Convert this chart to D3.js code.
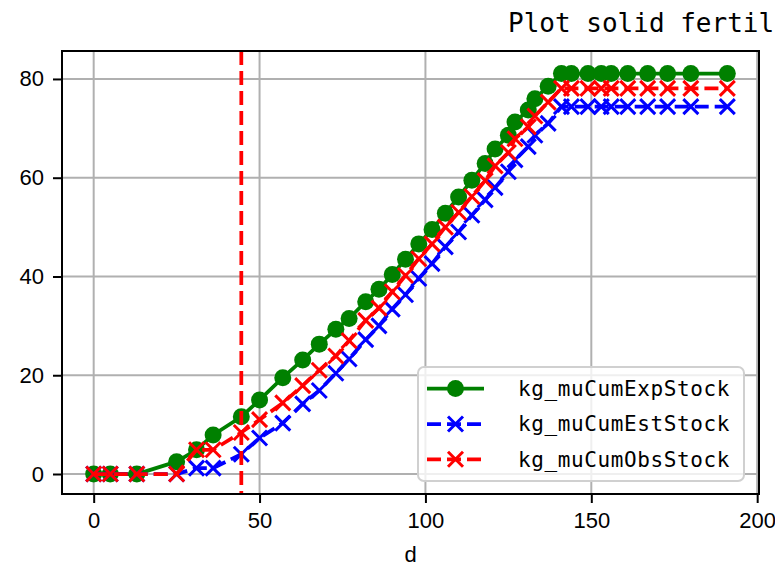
<!DOCTYPE html>
<html>
<head>
<meta charset="utf-8">
<script src="https://cdn.jsdelivr.net/npm/d3@7"></script>
<style>
  body { margin: 0; background: #fff; }
  svg { display: block; }
</style>
</head>
<body>
<svg id="chart"></svg>
<script>
// data
var days = [0, 5, 13, 25, 31, 36, 44.5, 50, 57, 63, 68, 73, 77, 82, 86, 90, 94, 98, 102, 106,
            110, 114, 118, 121, 125, 127, 131, 133, 137, 141, 144, 149, 153, 156, 161, 167, 173, 180, 191];
var expStock = [0, 0, 0, 2.5, 4.9, 7.9, 11.6, 15.0, 19.5, 23.1, 26.3, 29.3, 31.5, 34.9, 37.4, 40.4, 43.5, 46.6, 49.5, 52.8,
                56.1, 59.5, 62.9, 65.8, 68.6, 71.3, 73.7, 76.0, 78.5, 81.1, 81.1, 81.1, 81.1, 81.1, 81.1, 81.1, 81.1, 81.1, 81.1];
var estStock = [0, 0, 0, 0, 1.2, 1.2, 4.0, 7.3, 10.3, 14.2, 16.9, 20.4, 23.3, 27.2, 30.0, 33.4, 36.3, 39.6, 42.6, 46.0,
                49.0, 52.4, 55.5, 58.0, 61.2, 63.6, 66.3, 68.6, 71.0, 74.4, 74.4, 74.4, 74.4, 74.4, 74.4, 74.4, 74.4, 74.4, 74.4];
var obsStock = [0, 0, 0, 0, 4.9, 4.9, 8.4, 11.0, 14.4, 17.9, 21.0, 23.9, 27.0, 31.1, 33.6, 36.9, 40.2, 43.6, 46.6, 50.0,
                53.0, 56.2, 59.4, 62.4, 65.1, 67.9, 70.3, 72.5, 75.3, 78.1, 78.1, 78.1, 78.1, 78.1, 78.1, 78.1, 78.1, 78.1, 78.1];
var seriesNames = ["kg_muCumExpStock", "kg_muCumEstStock", "kg_muCumObsStock"];
var xTicks = [0, 50, 100, 150, 200];
var yTicks = [0, 20, 40, 60, 80];
var vlineDay = 44.5;
var titleText = "Plot solid fertilizer stock";

// basic settings
var width = 775, height = 568;
var plotLeft = 62, plotRight = 759, plotTop = 51, plotBottom = 494;
var tickFont = "'Liberation Sans', Arial, sans-serif";
var monoFont = "'DejaVu Sans Mono', monospace";

var svg = d3.select("#chart").attr("width", width).attr("height", height);

var x = d3.scaleLinear().domain([-9.55, 200.55]).range([plotLeft, plotRight]);
var y = d3.scaleLinear().domain([-4.05, 85.66]).range([plotBottom, plotTop]);

// grid
svg.append("g").selectAll("line").data(xTicks).enter().append("line")
    .attr("x1", d => x(d)).attr("x2", d => x(d))
    .attr("y1", plotTop).attr("y2", plotBottom)
    .attr("stroke", "#b0b0b0").attr("stroke-width", 2);
svg.append("g").selectAll("line").data(yTicks).enter().append("line")
    .attr("x1", plotLeft).attr("x2", plotRight)
    .attr("y1", d => y(d)).attr("y2", d => y(d))
    .attr("stroke", "#b0b0b0").attr("stroke-width", 2);

var series = [
    {name: seriesNames[0], values: expStock, color: "green", dash: null, marker: "circle"},
    {name: seriesNames[1], values: estStock, color: "blue", dash: "14,6", marker: "x"},
    {name: seriesNames[2], values: obsStock, color: "red", dash: "14,6", marker: "x"}
];

var line = d3.line()
    .x(function(d) { return x(d.day); })
    .y(function(d) { return y(d.v); });

function drawMarker(g, marker, color, cx, cy) {
    if (marker === "circle") {
        g.append("circle").attr("cx", cx).attr("cy", cy).attr("r", 8.5).attr("fill", color);
    } else {
        var s = 7.5;
        g.append("path")
            .attr("d", "M" + (cx - s) + "," + (cy - s) + "L" + (cx + s) + "," + (cy + s) +
                       "M" + (cx - s) + "," + (cy + s) + "L" + (cx + s) + "," + (cy - s))
            .attr("stroke", color).attr("stroke-width", 3).attr("fill", "none");
    }
}

series.forEach(function(s) {
    var pts = days.map(function(d, i) { return {day: d, v: s.values[i]}; });
    var g = svg.append("g");
    g.append("path")
        .attr("d", line(pts))
        .attr("fill", "none")
        .attr("stroke", s.color)
        .attr("stroke-width", 3.75)
        .attr("stroke-dasharray", s.dash);
    pts.forEach(function(p) { drawMarker(g, s.marker, s.color, x(p.day), y(p.v)); });
});

// vertical marker line
svg.append("line")
    .attr("x1", x(vlineDay)).attr("x2", x(vlineDay))
    .attr("y1", plotTop).attr("y2", plotBottom)
    .attr("stroke", "red").attr("stroke-width", 3.75)
    .attr("stroke-dasharray", "14,6");

// axes
var xAxis = svg.append("g")
    .attr("transform", "translate(0," + plotBottom + ")")
    .call(d3.axisBottom(x).tickValues(xTicks).tickSize(9).tickPadding(9).tickFormat(d3.format("d")));
var yAxis = svg.append("g")
    .attr("transform", "translate(" + plotLeft + ",0)")
    .call(d3.axisLeft(y).tickValues(yTicks).tickSize(9).tickPadding(9).tickFormat(d3.format("d")));
[xAxis, yAxis].forEach(function(a) {
    a.select(".domain").remove();
    a.selectAll(".tick line").attr("stroke", "#000").attr("stroke-width", 2);
    a.selectAll(".tick text").attr("font-family", tickFont).attr("font-size", 22).attr("fill", "#000");
});

// frame
svg.append("rect")
    .attr("x", plotLeft).attr("y", plotTop)
    .attr("width", plotRight - plotLeft).attr("height", plotBottom - plotTop)
    .attr("fill", "none").attr("stroke", "#000").attr("stroke-width", 2);

// labels
svg.append("text")
    .attr("x", (plotLeft + plotRight) / 2).attr("y", 562)
    .attr("text-anchor", "middle")
    .attr("font-family", tickFont).attr("font-size", 22)
    .text("d");

svg.append("text")
    .attr("x", 508).attr("y", 32)
    .attr("font-family", monoFont).attr("font-size", 26)
    .text(titleText);

// legend
var legend = svg.append("g").attr("class", "legend");
legend.append("rect")
    .attr("x", 418).attr("y", 367)
    .attr("width", 326).attr("height", 114)
    .attr("rx", 6)
    .attr("fill", "#fff").attr("fill-opacity", 0.8)
    .attr("stroke", "#d0d0d0").attr("stroke-width", 2);

var rowY = [388.6, 424, 459.3];
series.forEach(function(s, i) {
    legend.append("line")
        .attr("x1", 427).attr("x2", 484)
        .attr("y1", rowY[i]).attr("y2", rowY[i])
        .attr("stroke", s.color).attr("stroke-width", 3.75)
        .attr("stroke-dasharray", s.dash);
    drawMarker(legend, s.marker, s.color, 455.5, rowY[i]);
    legend.append("text")
        .attr("x", 518).attr("y", rowY[i])
        .attr("dy", "0.35em")
        .attr("font-family", monoFont).attr("font-size", 21)
        .attr("letter-spacing", 0.6)
        .text(s.name);
});
</script>
</body>
</html>
